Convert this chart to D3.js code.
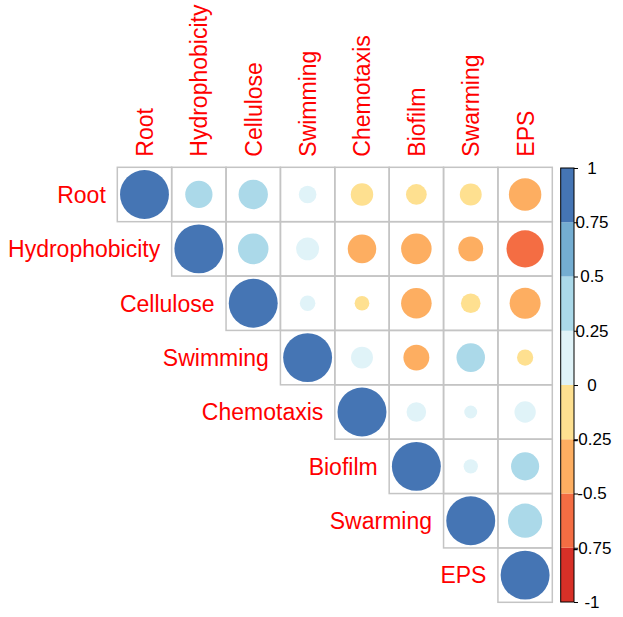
<!DOCTYPE html>
<html>
<head>
<meta charset="utf-8">
<script src="https://cdn.jsdelivr.net/npm/d3@7"></script>
<style>
  body { margin: 0; background: #fff; }
  svg { display: block; }
  text { font-family: Arial, "Liberation Sans", sans-serif; }
</style>
</head>
<body>
<div id="chart"></div>
<script>
// variable names, in matrix order
const variables = ["Root", "Hydrophobicity", "Cellulose", "Swimming",
                   "Chemotaxis", "Biofilm", "Swarming", "EPS"];

// upper triangle of the correlation matrix, row by row (starting at the diagonal)
const corrRows = [
  [1, 0.31, 0.36, 0.13, -0.21, -0.18, -0.20, -0.44],
  [1, 0.39, 0.22, -0.34, -0.39, -0.26, -0.58],
  [1, 0.10, -0.09, -0.39, -0.16, -0.40],
  [1, 0.20, -0.28, 0.34, -0.11],
  [1, 0.16, 0.07, 0.19],
  [1, 0.085, 0.33],
  [1, 0.49],
  [1]
];

// colour bins, from -1 to 1
const binColors = ["#D73027", "#F46D43", "#FDAE61", "#FEE090",
                   "#E0F3F8", "#ABD9E9", "#74ADD1", "#4575B4"];

const legendTicks = [-1, -0.75, -0.5, -0.25, 0, 0.25, 0.5, 0.75, 1];

const width = 623, height = 617;
const grid = {l: 117.3, t: 167.3, size: 435};
const legend = {x: 560.7, w: 13.3, t: 168, b: 602, labelX: 592};

const svg = d3.select("#chart")
  .append("svg")
  .attr("width", width)
  .attr("height", height);

const x = d3.scaleBand()
  .domain(variables)
  .range([grid.l, grid.l + grid.size]);

const y = d3.scaleBand()
  .domain(variables)
  .range([grid.t, grid.t + grid.size]);

const color = d3.scaleQuantize()
  .domain([-1, 1])
  .range(binColors);

const radius = d3.scaleSqrt()
  .domain([0, 1])
  .range([0, 0.45 * x.bandwidth()]);

// flatten the triangle into cells
const cells = [];
corrRows.forEach((row, i) => {
  row.forEach((v, k) => {
    cells.push({row: variables[i], col: variables[i + k], value: v});
  });
});

// cell borders
svg.append("g")
  .selectAll("rect")
  .data(cells)
  .join("rect")
  .attr("x", d => x(d.col))
  .attr("y", d => y(d.row))
  .attr("width", x.bandwidth())
  .attr("height", y.bandwidth())
  .attr("fill", "none")
  .attr("stroke", "#C4C4C4")
  .attr("stroke-width", 1.5);

// circles
svg.append("g")
  .selectAll("circle")
  .data(cells)
  .join("circle")
  .attr("cx", d => x(d.col) + x.bandwidth() / 2)
  .attr("cy", d => y(d.row) + y.bandwidth() / 2)
  .attr("r", d => radius(Math.abs(d.value)))
  .attr("fill", d => color(d.value));

// row labels
svg.append("g")
  .selectAll("text")
  .data(variables)
  .join("text")
  .attr("x", d => x(d) - 11.5)
  .attr("y", d => y(d) + y.bandwidth() / 2 + 8.3)
  .attr("text-anchor", "end")
  .attr("font-size", 23)
  .attr("fill", "#FF0000")
  .text(d => d);

// column labels
svg.append("g")
  .selectAll("text")
  .data(variables)
  .join("text")
  .attr("transform", d => `translate(${x(d) + x.bandwidth() / 2 + 8.5}, ${grid.t - 10.6}) rotate(-90)`)
  .attr("text-anchor", "start")
  .attr("font-size", 23)
  .attr("fill", "#FF0000")
  .text(d => d);

// colour legend
const legendScale = d3.scaleLinear()
  .domain([-1, 1])
  .range([legend.b, legend.t]);

const bins = d3.range(binColors.length).map(i => ({
  lo: -1 + i * 0.25,
  hi: -1 + (i + 1) * 0.25,
  color: binColors[i]
}));

svg.append("g")
  .selectAll("rect")
  .data(bins)
  .join("rect")
  .attr("x", legend.x)
  .attr("y", d => legendScale(d.hi))
  .attr("width", legend.w)
  .attr("height", d => legendScale(d.lo) - legendScale(d.hi))
  .attr("fill", d => d.color);

svg.append("rect")
  .attr("x", legend.x)
  .attr("y", legend.t)
  .attr("width", legend.w)
  .attr("height", legend.b - legend.t)
  .attr("fill", "none")
  .attr("stroke", "#000")
  .attr("stroke-width", 1);

const legendAxis = svg.append("g")
  .attr("transform", `translate(${legend.x + legend.w}, 0)`)
  .call(d3.axisRight(legendScale)
    .tickValues(legendTicks)
    .tickSize(4)
    .tickFormat(d => String(d)));

legendAxis.select(".domain").remove();
legendAxis.selectAll("line").attr("stroke", "#000");
legendAxis.selectAll("text")
  .attr("x", legend.labelX - legend.x - legend.w)
  .attr("text-anchor", "middle")
  .attr("font-family", "Arial, 'Liberation Sans', sans-serif")
  .attr("font-size", 17)
  .attr("fill", "#000");
</script>
</body>
</html>
